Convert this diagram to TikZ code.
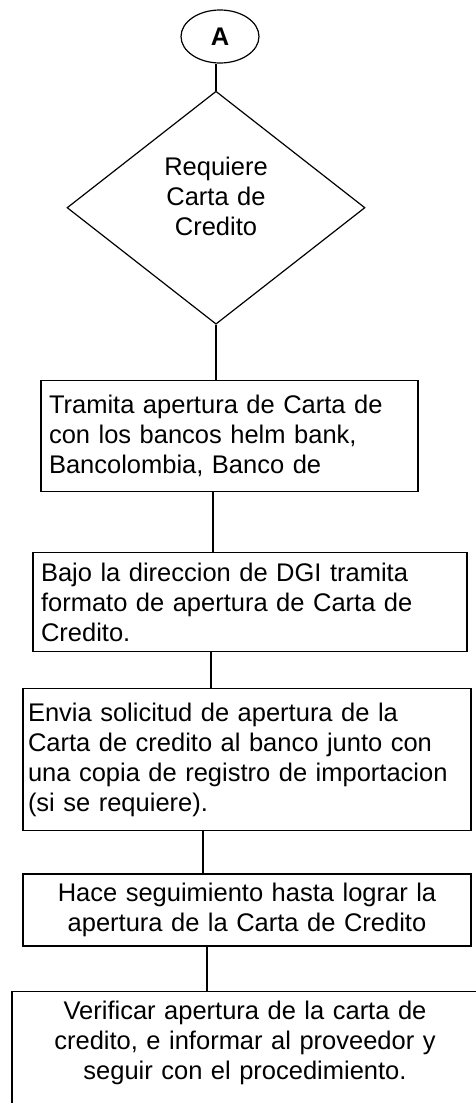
\documentclass[tikz,border=0pt]{standalone}
\usepackage{fontspec}
\setmainfont[WordSpace=1.5]{Liberation Sans}
\usetikzlibrary{shapes.geometric,positioning}

\begin{document}
\begin{tikzpicture}[
            every node/.style={font=\fontsize{25.5}{30}\selectfont},
            conn/.style={draw,ellipse,minimum width=78pt,minimum height=53pt,inner sep=0pt,font=\fontsize{25.5}{30}\selectfont\bfseries},
            decision/.style={draw,diamond,minimum width=298pt,minimum height=233pt,inner sep=0pt,align=center},
            proc/.style={draw,rectangle,inner xsep=8pt,inner ysep=0pt},
            line width=1.2pt
        ]
        \useasboundingbox (0,0) rectangle (475pt,-1103pt);

        % Draw connector and decision %
        \node[conn] (a) at (220pt,-36.5pt) {A};
        \node[decision, below=27pt of a, xshift=-4pt, text width=112pt, text depth=82pt] (req) {Requiere\\Carta de\\Credito};

        % Draw process boxes %
        \node[proc, below=55pt of req, xshift=13.5pt, text width=361pt, minimum height=111pt, align=left] (b1) {Tramita apertura de Carta de\\con los bancos helm bank,\\Bancolombia, Banco de};
        \node[proc, below=60pt of b1, xshift=20.5pt, text width=418pt, minimum height=99pt, align=left] (b2) {Bajo la direccion de DGI tramita\\formato de apertura de Carta de\\Credito.};
        \node[proc, below=36pt of b2, xshift=-3pt, inner xsep=5pt, text width=438pt, minimum height=142pt, align=left] (b3) {Envia solicitud de apertura de la\\Carta de credito al banco junto con\\una copia de registro de importacion\\(si se requiere).};
        \node[proc, below=42pt of b3, text width=432pt, minimum height=72pt, align=center] (b4) {Hace seguimiento hasta lograr la\\apertura de la Carta de Credito};
        \node[proc, below=44pt of b4, xshift=-2pt, inner ysep=10pt, text width=450pt, text depth=100pt, align=center] (b5) {Verificar apertura de la carta de\\credito, e informar al proveedor y\\seguir con el procedimiento.};

        % Draw lines %
        \draw (req.north) -- (req.north |- a.south);
        \draw (req.south) -- (req.south |- b1.north);
        \draw ([xshift=-16.5pt]b1.south) -- ([xshift=-16.5pt]b1.south |- b2.north);
        \draw ([xshift=-39pt]b2.south) -- ([xshift=-39pt]b2.south |- b3.north);
        \draw ([xshift=-44pt]b3.south) -- ([xshift=-44pt]b3.south |- b4.north);
        \draw ([xshift=-40pt]b4.south) -- ([xshift=-40pt]b4.south |- b5.north);
\end{tikzpicture}
\end{document}
